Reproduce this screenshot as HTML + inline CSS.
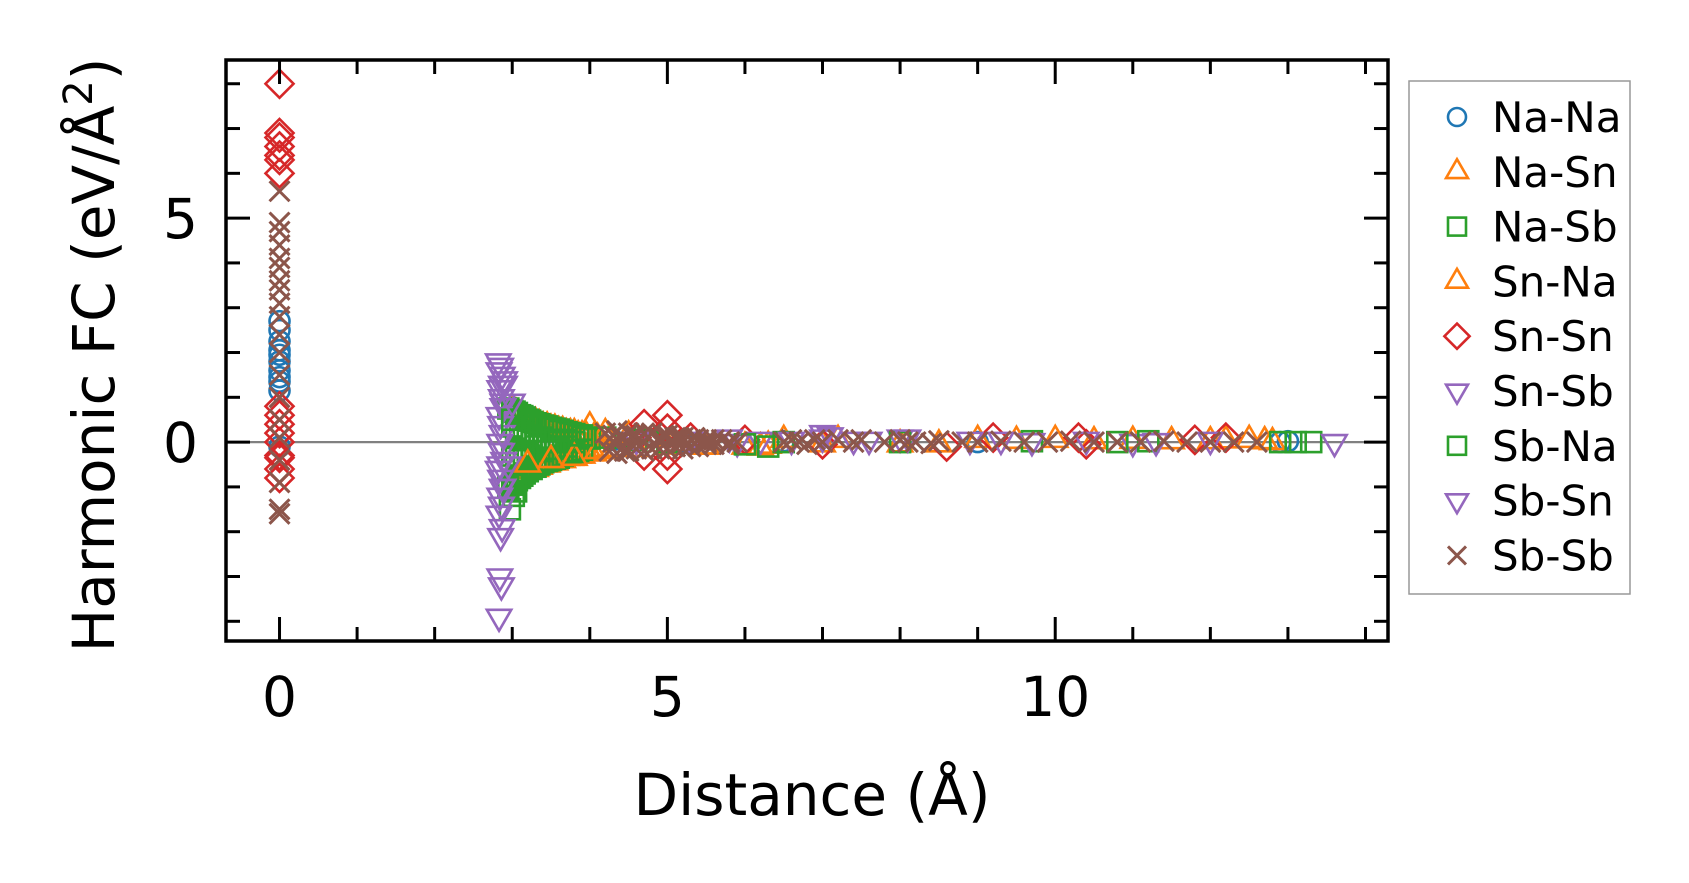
<!DOCTYPE html>
<html><head><meta charset="utf-8"><style>
html,body{margin:0;padding:0;background:#fff;width:1689px;height:883px;overflow:hidden}
svg text{font-family:"DejaVu Sans","Liberation Sans",sans-serif;fill:#000}
</style></head><body>
<svg id="chart" width="1689" height="883" viewBox="0 0 1689 883" xmlns="http://www.w3.org/2000/svg">
<g id="marks"></g>
<g id="axes"></g>
<g id="legend"></g>
</svg>
<script>
// ---- data ----
const seriesNames = ["Na-Na","Na-Sn","Na-Sb","Sn-Na","Sn-Sn","Sn-Sb","Sb-Na","Sb-Sn","Sb-Sb"];
const seriesColors = ["#1f77b4","#ff7f0e","#2ca02c","#ff7f0e","#d62728","#9467bd","#2ca02c","#9467bd","#8c564b"];
const seriesMarkers = ["o","^","s","^","D","v","s","v","x"];
const xTicks = [0,5,10];
const yTicks = [0,5];
const naNaX = [0,0,0,0,0,0,0,0,0,0,0,4.3,5.2,6.5,9.0,12.9,13.0];
const naNaY = [2.7,2.5,2.25,2.05,1.95,1.8,1.6,1.45,1.35,1.15,-0.1,0.05,0,0.02,0,0,0.02];
const naSnX = [3.0,3.05,3.1,3.15,3.2,3.25,3.3,3.35,3.4,3.45,3.5,3.55,3.6,3.65,3.7,3.75,3.8,3.85,3.9,3.95,4.0,4.05,4.1,3.2,3.25,3.3,3.35,3.4,3.45,3.5,3.55,3.6,3.65,3.7,3.75,3.8,3.85,3.9,3.95,4.0,4.05,4.1,4.15,4.2,4.3,4.6,5.0,5.5,6.0,6.2,6.3,7.0,8.0,9.0,10.0,11.0,12.0,12.5,12.8];
const naSnY = [0.7,0.65,0.6,0.55,0.5,0.45,0.45,0.4,0.35,0.35,0.3,0.3,0.25,0.25,0.2,0.2,0.2,0.15,0.15,0.15,0.35,0.1,0.1,-0.65,-0.6,-0.6,-0.55,-0.5,-0.5,-0.45,-0.45,-0.4,-0.4,-0.35,-0.35,-0.3,-0.3,-0.3,-0.25,-0.25,-0.25,-0.2,-0.2,-0.15,-0.15,-0.15,-0.1,-0.1,-0.1,-0.12,-0.08,-0.05,-0.05,0.05,0.05,0.03,0.02,0.05,0];
const naSbX = [2.95,3.0,3.03,3.06,3.1,3.13,3.16,3.2,3.23,3.26,3.3,3.35,3.4,3.45,3.5,3.55,3.6,3.65,3.7,3.75,3.8,3.85,3.9,3.95,4.0,2.95,3.0,3.03,3.06,3.1,3.13,3.16,3.2,3.25,3.3,3.35,3.4,3.45,3.5,3.55,3.6,3.65,3.7,3.75,3.8,3.85,3.9,3.0,3.05,3.1,3.15,3.2,3.25,3.3,3.35,3.4,3.45,3.5,3.55,3.6,3.7,3.8,3.0,3.05,3.1,3.15,3.2,3.25,3.3,3.4,3.5,3.6,3.7,2.97,3.02,3.05,3.15];
const naSbY = [0.75,0.7,0.68,0.65,0.6,0.58,0.55,0.5,0.48,0.45,0.42,0.4,0.37,0.35,0.32,0.3,0.28,0.25,0.22,0.2,0.18,0.15,0.12,0.1,0.08,-1.0,-0.95,-0.9,-0.85,-0.8,-0.75,-0.7,-0.65,-0.6,-0.55,-0.5,-0.45,-0.42,-0.4,-0.37,-0.35,-0.3,-0.28,-0.25,-0.22,-0.2,-0.17,0.35,0.3,0.25,0.2,0.15,0.1,0.05,0,0.1,0.05,0,0.05,0,0.05,0,-0.3,-0.35,-0.4,-0.3,-0.25,-0.3,-0.2,-0.2,-0.15,-0.15,-0.1,-1.5,-1.2,-1.1,-0.4];
const snNaX = [3.2,3.5,3.8,4.1,4.2,4.5,5.5,6.2,6.5,7.2,8.5,9.5,10.5,11.5,12.2,12.7];
const snNaY = [-0.5,-0.4,-0.35,-0.2,0.2,0.15,-0.1,-0.12,0.05,0.05,-0.05,0.03,0.02,0.02,0.04,0.02];
const snSnX = [0,0,0,0,0,0,0,0,0,0,0,0,0,0,0,0,4.7,4.7,5.0,5.0,5.0,5.0,4.6,5.3,6.0,7.0,8.6,9.2,10.3,10.4,11.8,12.2];
const snSnY = [8.0,6.9,6.8,6.6,6.4,6.3,6.0,0.8,0.6,0.4,0.2,0,-0.3,-0.6,-0.8,-0.35,0.4,-0.3,0.6,-0.6,0.3,-0.3,0.1,0.1,0.05,-0.05,-0.1,0.1,0.1,-0.05,0.05,0.1];
const snSbX = [2.82,2.85,2.83,2.87,2.9,2.84,2.86,2.88,2.83,2.85,2.87,2.84,2.86,2.89,2.82,2.85,2.88,2.84,2.86,2.83,2.87,2.85,2.84,2.86,2.83,2.86,2.88,2.84,2.87,5.9,6.2,7.0,7.1,7.6,8.0,9.3,11.0];
const snSbY = [1.8,1.7,1.6,1.5,1.4,1.2,1.0,0.8,0.6,0.4,0.2,0,-0.2,-0.4,-0.6,-0.8,-1.0,-1.2,-1.4,-1.6,-1.9,-2.1,-3.0,-3.2,-3.9,1.3,0.9,-0.5,-1.0,0,0.05,0.1,0.15,0.05,0.1,0.05,0];
const sbNaX = [3.0,3.3,3.6,3.9,4.2,4.6,5.0,6.0,6.3,6.5,8.0,9.7,10.8,11.2,12.9,13.1,13.3];
const sbNaY = [0.5,0.35,0.25,0.15,0.1,0.05,0,-0.05,-0.1,0,0,0.02,0,0.02,0,0,0];
const sbSnX = [2.9,2.95,3.0,4.6,5.3,5.8,6.6,7.0,7.4,8.1,8.9,9.7,10.4,11.3,12.0,13.6];
const sbSnY = [1.3,-0.5,0.9,0.05,0.05,0.1,0.05,0.2,0.05,0.1,0.05,0.02,0.05,0.02,0.05,0];
const sbSbX = [0,0,0,0,0,0,0,0,0,0,0,0,0,0,0,0,0,0,0,0,4.2,4.3,4.35,4.4,4.5,4.55,4.6,4.7,4.75,4.8,4.9,4.95,5.0,5.1,5.15,5.2,5.3,5.35,5.4,5.5,5.6,5.7,5.8,5.9,4.25,4.35,4.45,4.5,4.6,4.7,4.8,4.9,5.0,5.1,5.2,5.3,5.4,5.5,5.6,5.8,4.3,4.6,4.9,5.2,5.5,6.5,6.6,6.7,6.8,6.9,7.0,7.2,7.4,7.5,7.8,8.0,8.1,8.2,8.4,8.5,8.8,9.0,9.3,9.6,9.9,10.2,10.5,10.8,11.1,11.4,11.7,12.0,12.3,12.6];
const sbSbY = [5.6,4.9,4.7,4.4,4.1,3.9,3.6,3.4,3.1,2.8,2.4,2.0,1.5,1.0,0.5,0.1,-0.4,-0.9,-1.5,-1.6,0.2,0.15,0.25,0.1,0.2,0.15,0.15,0.2,0.1,0.2,0.1,0.15,0.15,0.1,0.1,0.1,0.05,0.1,0.05,0.05,0.05,0.05,0,0,-0.2,-0.25,-0.2,-0.2,-0.15,-0.2,-0.15,-0.15,-0.15,-0.1,-0.15,-0.1,-0.1,-0.05,-0.05,-0.05,0,0,0,0,0,0,0.05,0,-0.05,0.05,0,0.05,0,0.05,0,0.05,0,0,-0.03,0.03,0,0,0.02,0,0,0.02,0,0,0,0.02,0,0,0,0];
const seriesX = [naNaX,naSnX,naSbX,snNaX,snSnX,snSbX,sbNaX,sbSnX,sbSbX];
const seriesY = [naNaY,naSnY,naSbY,snNaY,snSnY,snSbY,sbNaY,sbSnY,sbSbY];

// ---- layout ----
const L=226,R=1388,T=60,B=641;
const xMin=-0.69,xMax=14.29,yMin=-4.44,yMax=8.53;
const sx=v=>L+(v-xMin)/(xMax-xMin)*(R-L);
const sy=v=>B-(v-yMin)/(yMax-yMin)*(B-T);
const NS="http://www.w3.org/2000/svg";
function mk(tag,attrs,parent){const e=document.createElementNS(NS,tag);for(const k in attrs)e.setAttribute(k,attrs[k]);parent.appendChild(e);return e;}

function marker(type,cx,cy,color,parent,s){
  s=s||1;const sw=2.6;let e;
  if(type==="o"){e=mk("circle",{cx:cx,cy:cy,r:10*s,fill:"none",stroke:color,"stroke-width":sw},parent);}
  else if(type==="^"){const r=14*s;e=mk("polygon",{points:`${cx},${cy-r} ${cx-r*0.87},${cy+r*0.5} ${cx+r*0.87},${cy+r*0.5}`,fill:"none",stroke:color,"stroke-width":sw},parent);}
  else if(type==="v"){const r=14*s;e=mk("polygon",{points:`${cx},${cy+r} ${cx-r*0.87},${cy-r*0.5} ${cx+r*0.87},${cy-r*0.5}`,fill:"none",stroke:color,"stroke-width":sw},parent);}
  else if(type==="s"){const h=10*s;e=mk("rect",{x:cx-h,y:cy-h,width:2*h,height:2*h,fill:"none",stroke:color,"stroke-width":sw},parent);}
  else if(type==="D"){const r=14*s;e=mk("polygon",{points:`${cx},${cy-r} ${cx+r},${cy} ${cx},${cy+r} ${cx-r},${cy}`,fill:"none",stroke:color,"stroke-width":sw},parent);}
  else {const h=10*s;e=mk("path",{d:`M${cx-h},${cy-h}L${cx+h},${cy+h}M${cx-h},${cy+h}L${cx+h},${cy-h}`,fill:"none",stroke:color,"stroke-width":sw+0.4},parent);}
  return e;
}

const marks=document.getElementById("marks");
const zl=mk("line",{x1:L,x2:R,y1:sy(0),y2:sy(0),stroke:"#808080","stroke-width":2.2},marks);


seriesNames.forEach((n,i)=>{
  const g=mk("g",{},marks);
  
  
  seriesX[i].forEach((xv,j)=>{
    const m=marker(seriesMarkers[i],sx(xv),sy(seriesY[i][j]),seriesColors[i],g);
    
    
  });
});

// ---- axes ----
const axes=document.getElementById("axes");
const frame=mk("rect",{x:L,y:T,width:R-L,height:B-T,fill:"none",stroke:"#000","stroke-width":3.5},axes);


for(let v=0;v<=14;v++){
  const major=v%5===0,len=major?24:14,x=sx(v);
  mk("line",{x1:x,x2:x,y1:B,y2:B-len,stroke:"#000","stroke-width":3},axes);
  mk("line",{x1:x,x2:x,y1:T,y2:T+len,stroke:"#000","stroke-width":3},axes);
}
for(let v=-4;v<=8;v++){
  const major=v%5===0,len=major?24:14,y=sy(v);
  mk("line",{x1:L,x2:L+len,y1:y,y2:y,stroke:"#000","stroke-width":3},axes);
  mk("line",{x1:R,x2:R-len,y1:y,y2:y,stroke:"#000","stroke-width":3},axes);
}
xTicks.forEach(v=>{
  const t=mk("text",{x:sx(v),y:716,"text-anchor":"middle","font-size":55},axes);t.textContent=v;
  
  
});
yTicks.forEach(v=>{
  const t=mk("text",{x:198,y:sy(v)+20,"text-anchor":"end","font-size":55},axes);t.textContent=v;
  
  
});
const xt=mk("text",{x:812,y:815,"text-anchor":"middle","font-size":58},axes);xt.textContent="Distance (Å)";


const yt=mk("text",{x:0,y:0,"text-anchor":"middle","font-size":58,transform:"translate(114,355) rotate(-90)"},axes);
yt.innerHTML='Harmonic FC (eV/Å<tspan dy="-22" font-size="40">2</tspan><tspan dy="22">)</tspan>';



// ---- legend ----
const lg=document.getElementById("legend");
const box=mk("rect",{x:1409,y:81,width:221,height:513,fill:"#fff",stroke:"#999","stroke-width":1.5},lg);


seriesNames.forEach((n,i)=>{
  const y=117+i*54.8;
  const g=mk("g",{},lg);
  
  
  marker(seriesMarkers[i],1457,y,seriesColors[i],g,0.9);
  const t=mk("text",{x:1492,y:y+15,"font-size":42},g);t.textContent=n;
});
</script>
</body></html>
